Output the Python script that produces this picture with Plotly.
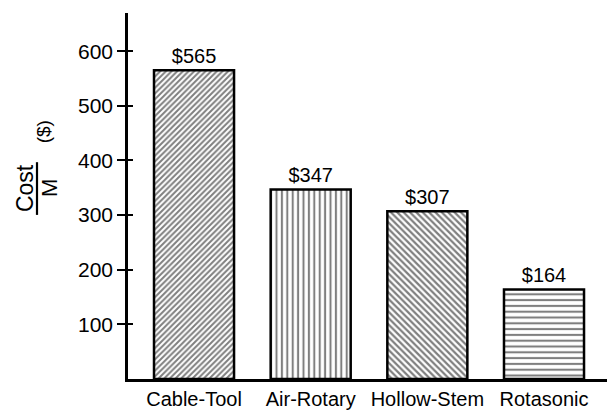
import plotly.graph_objects as go

# Drilling method cost comparison
methods = ["Cable-Tool", "Air-Rotary", "Hollow-Stem", "Rotasonic"]
cost_per_m = [565, 347, 307, 164]
value_labels = ["$565", "$347", "$307", "$164"]
pattern_shapes = ["/", "|", "\\", "-"]
pattern_sizes = [4, 5.4, 4.5, 5.8]
pattern_solidity = [0.5, 0.38, 0.5, 0.36]
y_ticks = [100, 200, 300, 400, 500, 600]

W, H = 607, 410
L, R, T, B = 128, 0, 13, 29
PW, PH = W - L - R, H - T - B
FONT = "Liberation Sans, Arial, Helvetica, sans-serif"


def px_x(px):
    return (px - L) / PW


def px_y(py):
    return (H - B - py) / PH


fig = go.Figure()
fig.add_trace(go.Bar(
    x=methods,
    y=cost_per_m,
    text=value_labels,
    textposition="outside",
    textfont=dict(size=20, color="black", family=FONT),
    cliponaxis=False,
    marker=dict(
        color="white",
        line=dict(color="black", width=2.5),
        pattern=dict(shape=pattern_shapes, size=pattern_sizes,
                     solidity=pattern_solidity, fgcolor="black",
                     bgcolor="white", fillmode="overlay"),
    ),
    showlegend=False,
    hoverinfo="skip",
))

# invisible trace to carry the inward half of the crossing ticks
fig.add_trace(go.Scatter(x=[methods[0]], y=[None], yaxis="y2",
                         showlegend=False, hoverinfo="skip"))

fig.update_layout(
    width=W, height=H,
    margin=dict(l=L, r=R, t=T, b=B, pad=0),
    paper_bgcolor="white", plot_bgcolor="white",
    font=dict(family=FONT, color="black", size=20),
    bargap=0.314,
    xaxis=dict(
        type="category", range=[-0.566, 3.54],
        showline=True, linecolor="black", linewidth=2.5,
        ticks="", showgrid=False, zeroline=False,
        tickfont=dict(size=20, family=FONT, color="black"),
    ),
    yaxis=dict(
        range=[0, 670], tickvals=y_ticks,
        showline=True, linecolor="black", linewidth=2.5,
        ticks="outside", ticklen=8, tickwidth=2, tickcolor="black",
        showgrid=False, zeroline=False,
        tickfont=dict(size=21, family=FONT, color="black"),
    ),
    yaxis2=dict(
        range=[0, 670], tickvals=y_ticks, overlaying="y", side="left",
        anchor="x", showline=False, showticklabels=False,
        ticks="inside", ticklen=5, tickwidth=2, tickcolor="black",
        showgrid=False, zeroline=False,
    ),
)

# axis title drawn as a stacked fraction "Cost / M ($)"
fig.add_annotation(text="Cost", xref="paper", yref="paper",
                   x=px_x(25), y=px_y(189), textangle=-90,
                   showarrow=False, xanchor="center", yanchor="middle",
                   font=dict(size=23, family=FONT, color="black"))
fig.add_annotation(text="M", xref="paper", yref="paper",
                   x=px_x(49), y=px_y(189), textangle=-90,
                   showarrow=False, xanchor="center", yanchor="middle",
                   font=dict(size=22, family=FONT, color="black"))
fig.add_annotation(text="($)", xref="paper", yref="paper",
                   x=px_x(43), y=px_y(133), textangle=-90,
                   showarrow=False, xanchor="center", yanchor="middle",
                   font=dict(size=19, family=FONT, color="black"))
fig.add_shape(type="line", xref="paper", yref="paper",
              x0=px_x(37), x1=px_x(37), y0=px_y(163), y1=px_y(216),
              line=dict(color="black", width=2.2))

fig.write_html("out.html")
